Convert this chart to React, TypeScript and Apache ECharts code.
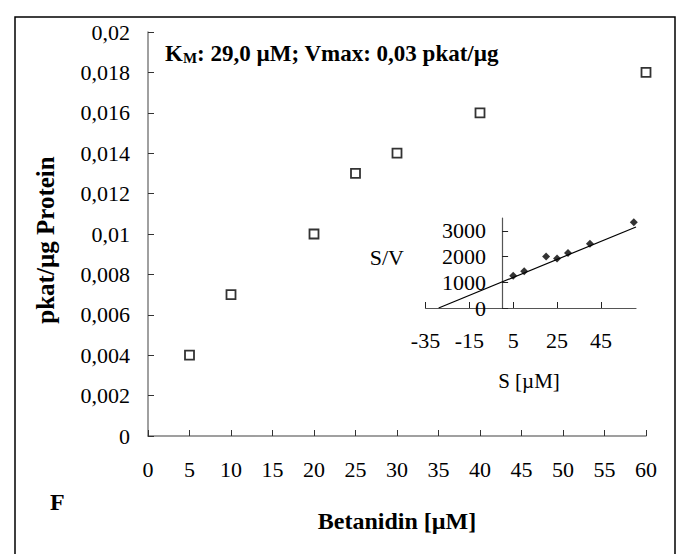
import React, { useEffect, useRef } from "react";
import * as echarts from "echarts";

// Main plot: substrate concentration vs. activity
const betanidin = [5, 10, 20, 25, 30, 40, 60];
const activity = [0.004, 0.007, 0.01, 0.013, 0.014, 0.016, 0.018];

// Inset (Hanes plot): S vs S/V
const insetS = [5, 10, 20, 25, 30, 40, 60];
const insetSV = [1250, 1430, 2000, 1923, 2143, 2500, 3333];
const fitLine = [
  [-29, 0],
  [61, 3150],
];
const insetXTicks = [-35, -15, 5, 25, 45];
const insetYTicks = [0, 1000, 2000, 3000];

const SERIF = "'Liberation Serif', 'Times New Roman', serif";

export default function App() {
  const ref = useRef<HTMLDivElement>(null);
  useEffect(() => {
    if (!ref.current) return;
    const chart = echarts.init(ref.current, undefined, { renderer: "svg" });
    const axisGrey = "#808080";
    const option: any = {
      animation: false,
      backgroundColor: "#fff",
      textStyle: { fontFamily: SERIF },
      grid: [
        { left: 148, top: 32, width: 498, height: 404 },
        { left: 425.5, top: 218, width: 210.5, height: 90 },
      ],
      xAxis: [
        {
          gridIndex: 0,
          type: "value",
          min: 0,
          max: 60,
          interval: 5,
          splitLine: { show: false },
          axisLine: { lineStyle: { color: axisGrey, width: 1.5 } },
          axisTick: { inside: true, length: 6, lineStyle: { color: "#333" } },
          axisLabel: { margin: 22, fontSize: 22, color: "#000", fontFamily: SERIF },
        },
        {
          gridIndex: 1,
          type: "value",
          min: -35,
          max: 61,
          splitLine: { show: false },
          axisLine: { onZero: false, lineStyle: { color: "#555", width: 1.2 } },
          axisTick: {
            inside: true,
            length: 6,
            customValues: insetXTicks,
            lineStyle: { color: "#222" },
          },
          axisLabel: {
            margin: 21,
            fontSize: 22,
            color: "#000",
            fontFamily: SERIF,
            customValues: insetXTicks,
          },
        },
      ],
      yAxis: [
        {
          gridIndex: 0,
          type: "value",
          min: 0,
          max: 0.02,
          interval: 0.002,
          splitLine: { show: false },
          axisLine: { show: true, lineStyle: { color: axisGrey, width: 1.5 } },
          axisTick: { show: true, inside: true, length: 6, lineStyle: { color: "#333" } },
          axisLabel: {
            margin: 18,
            fontSize: 22,
            color: "#000",
            fontFamily: SERIF,
            formatter: (v: number) => String(+v.toFixed(3)).replace(".", ","),
          },
        },
        {
          gridIndex: 1,
          type: "value",
          min: 0,
          max: 3500,
          offset: -76.6,
          splitLine: { show: false },
          axisLine: { show: true, onZero: false, lineStyle: { color: "#555", width: 1.2 } },
          axisTick: {
            show: true,
            inside: true,
            length: 6,
            customValues: insetYTicks,
            lineStyle: { color: "#222" },
          },
          axisLabel: {
            margin: 16,
            fontSize: 22,
            color: "#000",
            fontFamily: SERIF,
            customValues: insetYTicks,
            formatter: (v: number) => String(v),
          },
        },
      ],
      series: [
        {
          type: "scatter",
          xAxisIndex: 0,
          yAxisIndex: 0,
          symbol: "rect",
          symbolSize: 9,
          itemStyle: { color: "#fff", borderColor: "#000", borderWidth: 1.8 },
          data: betanidin.map((s, i) => [s, activity[i]]),
          z: 5,
        },
        {
          type: "line",
          xAxisIndex: 1,
          yAxisIndex: 1,
          showSymbol: false,
          symbol: "none",
          lineStyle: { color: "#000", width: 1.2 },
          data: fitLine,
          z: 3,
        },
        {
          type: "scatter",
          xAxisIndex: 1,
          yAxisIndex: 1,
          symbol: "diamond",
          symbolSize: 8,
          itemStyle: { color: "#000" },
          data: insetS.map((s, i) => [s, insetSV[i]]),
          z: 6,
        },
      ],
      graphic: [
        {
          type: "rect",
          shape: { x: 15, y: 17, width: 660, height: 560 },
          style: { fill: "none", stroke: "#000", lineWidth: 1.5 },
          silent: true,
          z: -10,
        },
        {
          type: "text",
          x: 165,
          y: 52,
          style: {
            text: "{b|K}{s|M}{b|: 29,0 µM; Vmax: 0,03 pkat/µg}",
            verticalAlign: "middle",
            rich: {
              b: { fontFamily: SERIF, fontWeight: "bold", fontSize: 23, lineHeight: 26, verticalAlign: "bottom", fill: "#000" },
              s: { fontFamily: SERIF, fontWeight: "bold", fontSize: 15, lineHeight: 22, verticalAlign: "bottom", fill: "#000" },
            },
          },
        },
        {
          type: "text",
          x: 45,
          y: 240,
          rotation: Math.PI / 2,
          style: {
            text: "pkat/µg Protein",
            fontFamily: SERIF,
            fontWeight: "bold",
            fontSize: 25,
            align: "center",
            verticalAlign: "middle",
            fill: "#000",
          },
        },
        {
          type: "text",
          x: 397,
          y: 521,
          style: {
            text: "Betanidin [µM]",
            fontFamily: SERIF,
            fontWeight: "bold",
            fontSize: 24,
            align: "center",
            verticalAlign: "middle",
            fill: "#000",
          },
        },
        {
          type: "text",
          x: 50,
          y: 502,
          style: {
            text: "F",
            fontFamily: SERIF,
            fontWeight: "bold",
            fontSize: 24,
            align: "left",
            verticalAlign: "middle",
            fill: "#000",
          },
        },
        {
          type: "text",
          x: 404,
          y: 257,
          style: {
            text: "S/V",
            fontFamily: SERIF,
            fontSize: 22,
            align: "right",
            verticalAlign: "middle",
            fill: "#000",
          },
        },
        {
          type: "text",
          x: 529,
          y: 381,
          style: {
            text: "S [µM]",
            fontFamily: SERIF,
            fontSize: 21,
            align: "center",
            verticalAlign: "middle",
            fill: "#000",
          },
        },
      ],
    };
    chart.setOption(option);
    return () => chart.dispose();
  }, []);
  return (
    <div
      ref={ref}
      style={{ position: "absolute", left: 0, top: 0, width: 682, height: 554 }}
    />
  );
}
